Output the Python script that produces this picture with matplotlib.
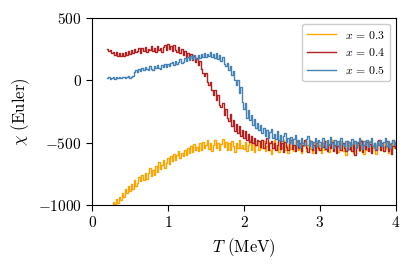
import numpy as np
import matplotlib
matplotlib.use("Agg")
import matplotlib.pyplot as plt

plt.rcParams['font.family'] = 'serif'
plt.rcParams['font.serif'] = ['cmr10']
plt.rcParams['mathtext.fontset'] = 'cm'
plt.rcParams['axes.formatter.use_mathtext'] = True

# temperature grid (MeV), step 0.02 from 0.2 to 4.0
t_start, t_step = 0.2, 0.02

chi_03 = [
    -1060, -1045, -1030, -1010, -975, -995, -950, -985, -935, -960,
    -900, -935, -870, -905, -850, -890, -835, -870, -800, -845,
    -820, -775, -810, -760, -800, -740, -790, -745, -705, -765,
    -720, -760, -690, -735, -655, -715, -680, -640, -700, -660,
    -625, -675, -610, -650, -590, -640, -600, -570, -625, -585,
    -610, -560, -600, -545, -585, -530, -575, -510, -560, -535,
    -570, -505, -555, -495, -545, -520, -480, -550, -505, -565,
    -520, -480, -545, -500, -560, -510, -470, -535, -495, -555,
    -505, -560, -490, -530, -575, -500, -545, -480, -540, -515,
    -550, -495, -570, -515, -480, -555, -505, -575, -520, -490,
    -560, -505, -540, -485, -570, -525, -495, -555, -590, -510,
    -480, -550, -515, -575, -495, -545, -475, -560, -520, -580,
    -500, -550, -490, -565, -525, -480, -555, -510, -585, -530,
    -490, -565, -520, -475, -550, -580, -500, -545, -485, -560,
    -520, -585, -500, -555, -490, -540, -575, -510, -480, -560,
    -530, -495, -575, -545, -485, -565, -515, -595, -530, -500,
    -555, -510, -580, -490, -545, -520, -570, -480, -550, -590,
    -505, -560, -525, -490, -575, -540, -510, -590, -520, -485,
    -555, -515, -570, -495, -540, -580, -505, -560, -480, -545,
    -510,
]

chi_04 = [
    250, 232, 240, 218, 230, 205, 225, 196, 220, 192,
    215, 198, 230, 205, 238, 212, 244, 220, 252, 228,
    236, 258, 218, 262, 234, 270, 226, 255, 240, 275,
    238, 262, 230, 278, 245, 260, 225, 268, 285, 240,
    290, 248, 272, 235, 280, 245, 228, 265, 220, 250,
    205, 232, 190, 220, 175, 210, 165, 195, 150, 182,
    125, 155, 90, 60, 35, 62, -15, -40, -10, -80,
    -120, -75, -160, -120, -195, -215, -180, -275, -230, -300,
    -330, -270, -365, -320, -405, -350, -420, -370, -445, -395,
    -460, -410, -480, -430, -495, -450, -505, -460, -520, -475,
    -490, -535, -480, -545, -500, -465, -555, -505, -485, -545,
    -500, -560, -515, -480, -550, -505, -575, -495, -535, -555,
    -505, -475, -550, -515, -570, -490, -540, -505, -565, -520,
    -480, -545, -575, -510, -490, -555, -520, -585, -500, -540,
    -560, -500, -535, -485, -550, -570, -510, -545, -495, -565,
    -515, -580, -525, -485, -555, -505, -540, -570, -490, -550,
    -520, -565, -495, -600, -535, -505, -560, -485, -575, -515,
    -550, -495, -565, -510, -585, -530, -500, -560, -520, -480,
    -555, -505, -570, -525, -490, -565, -510, -590, -525, -495,
    -545,
]

chi_05 = [
    15, 24, 12, 22, 27, 14, 23, 17, 26, 15,
    24, 29, 16, 27, 32, 19, 28, 36, 66, 84,
    68, 92, 76, 98, 80, 106, 88, 84, 112, 92,
    86, 116, 96, 122, 100, 92, 126, 106, 134, 108,
    132, 112, 142, 150, 122, 158, 134, 150, 168, 136,
    150, 178, 152, 186, 160, 194, 168, 200, 176, 168,
    204, 178, 212, 184, 220, 190, 210, 192, 224, 186,
    210, 180, 218, 172, 200, 152, 186, 132, 112, 138,
    84, 112, 44, 76, 0, -40, 6, -100, -50, -175,
    -230, -180, -300, -240, -320, -275, -355, -310, -385, -340,
    -400, -355, -425, -385, -445, -400, -460, -415, -390, -465,
    -430, -470, -410, -480, -440, -490, -445, -420, -495, -460,
    -500, -455, -510, -470, -435, -515, -475, -535, -460, -505,
    -520, -470, -450, -530, -485, -540, -495, -460, -525, -480,
    -495, -535, -465, -510, -545, -480, -520, -455, -505, -540,
    -475, -520, -490, -545, -460, -510, -530, -485, -555, -495,
    -525, -470, -510, -485, -540, -495, -460, -520, -550, -490,
    -515, -480, -535, -495, -460, -525, -500, -550, -485, -515,
    -480, -530, -495, -465, -525, -490, -545, -505, -475, -520,
    -495,
]

labels = [r'$x\,=\,0.3$', r'$x\,=\,0.4$', r'$x\,=\,0.5$']
colors = ['orange', 'firebrick', 'steelblue']

fig = plt.figure(figsize=(4.15, 2.68), dpi=100)
ax = fig.add_axes([0.222, 0.235, 0.732, 0.698])

for chi, lab, col in zip([chi_03, chi_04, chi_05], labels, colors):
    T = t_start + t_step * np.arange(len(chi))
    ax.plot(T, chi, color=col, lw=1.0, label=lab, drawstyle='steps-mid')

ax.set_xlim(0, 4)
ax.set_ylim(-1000, 500)
ax.set_xticks([0, 1, 2, 3, 4])
ax.set_yticks([-1000, -500, 0, 500])
ax.tick_params(labelsize=11, direction='out', length=4, width=0.8)
ax.set_xlabel('$T$ (MeV)', fontsize=12)
ax.set_ylabel(r'$\chi$ (Euler)', fontsize=12)
ax.legend(loc='upper right', fontsize=8.5, handlelength=2.4, framealpha=1,
          edgecolor='#cccccc')

fig.savefig('out.png', dpi=100)
